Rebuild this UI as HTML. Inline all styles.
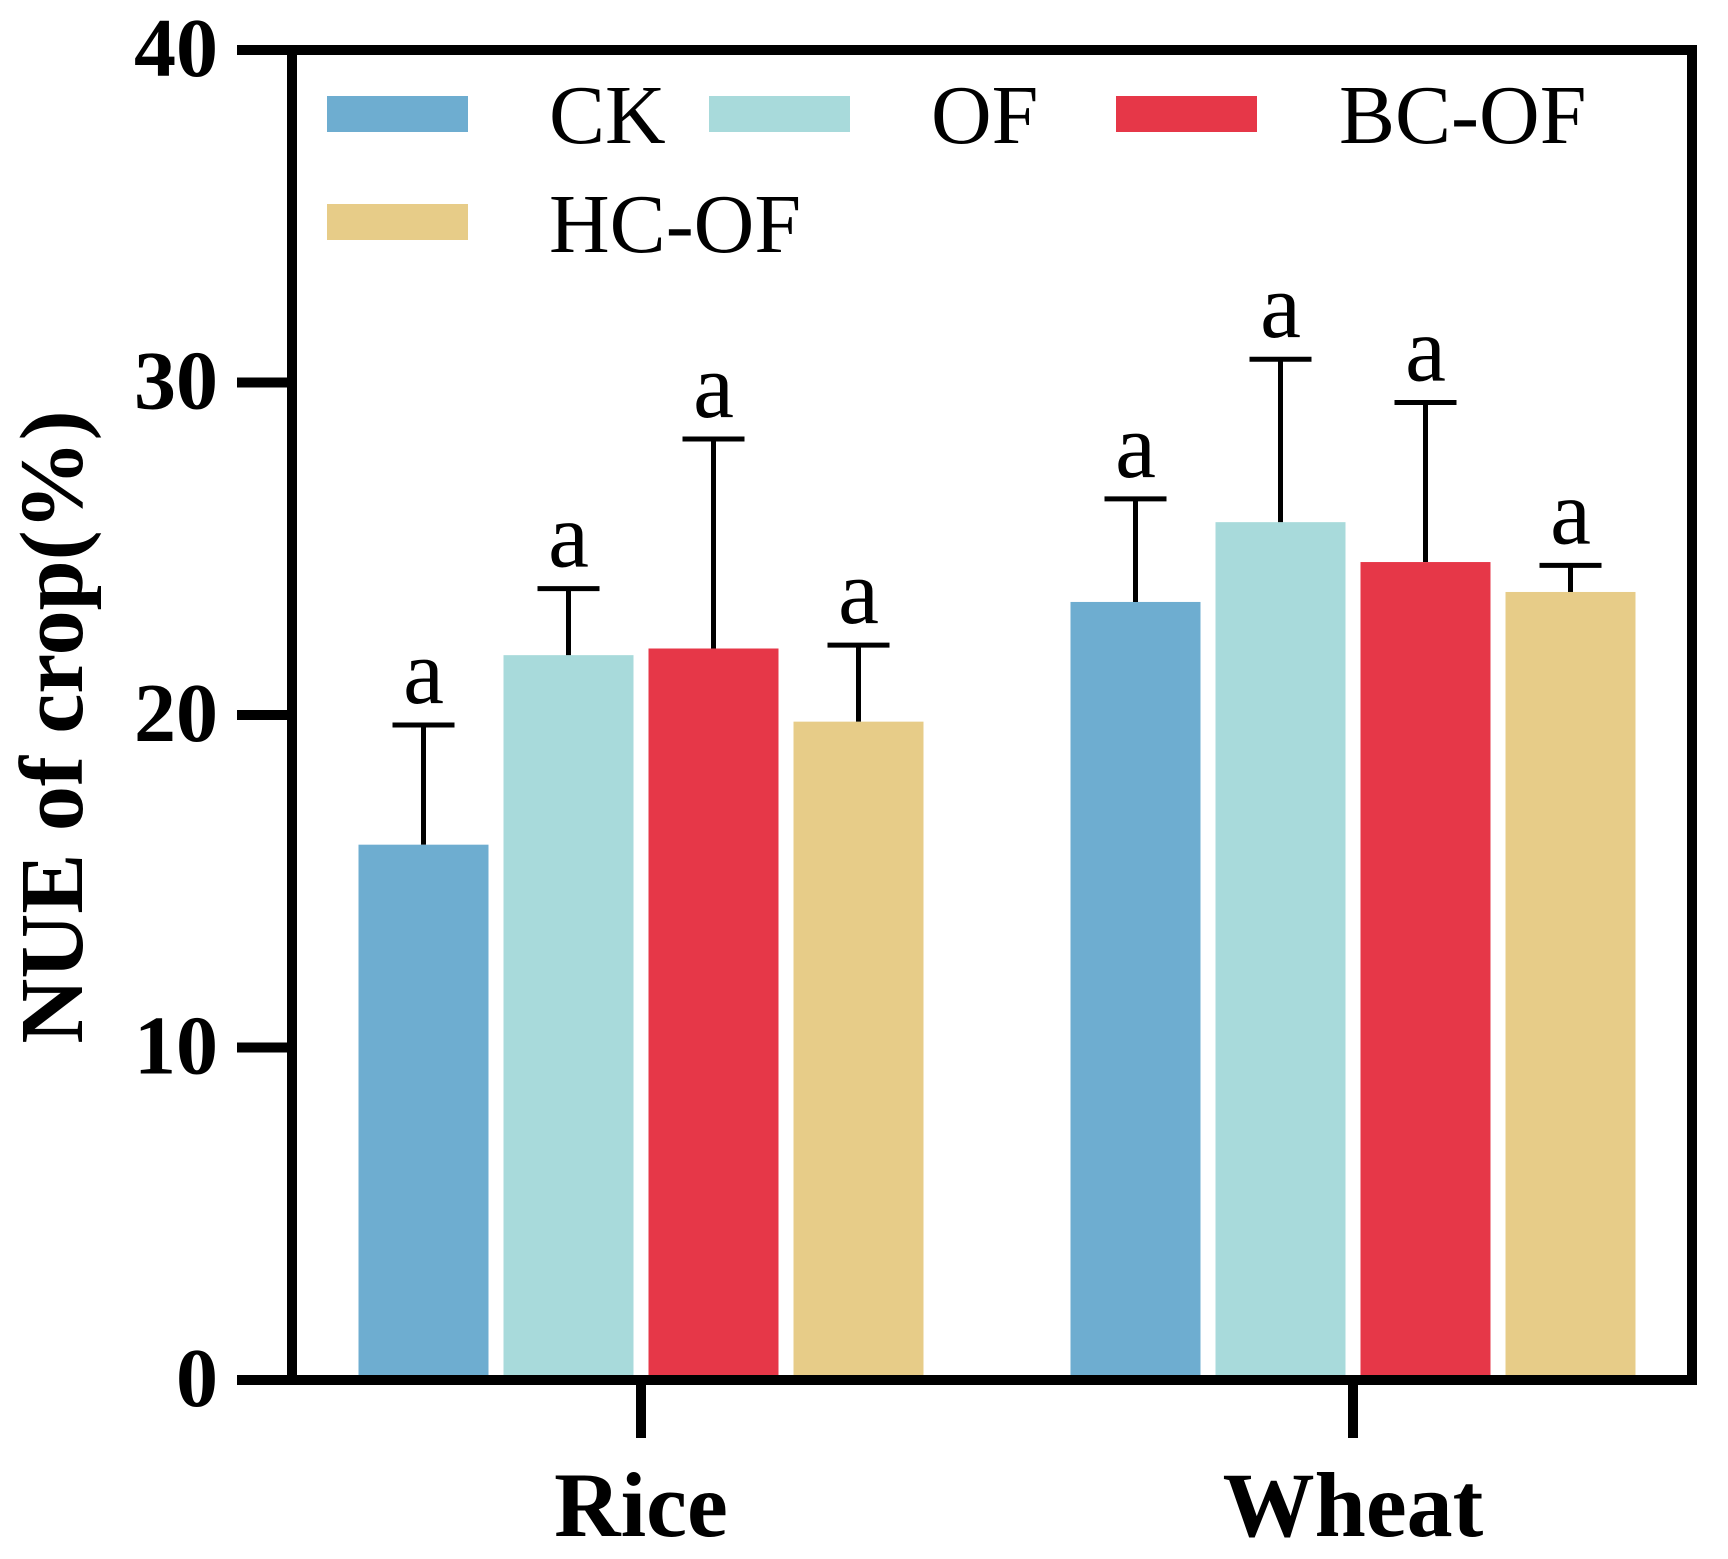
<!DOCTYPE html>
<html><head><meta charset="utf-8"><style>
html,body{margin:0;padding:0;background:#fff}
svg{display:block}
text{font-family:"Liberation Serif",serif}
</style></head><body>
<svg id="chart" width="1728" height="1559" viewBox="0 0 1728 1559" xmlns="http://www.w3.org/2000/svg">
<g id="plot"></g>
</svg>
<script>
const groups = ["Rice","Wheat"];
const seriesNames = ["CK","OF","BC-OF","HC-OF"];
const colors = ["#6eadd0","#a8dadb","#e63748","#e7cc88"];
const ckVals = [16.1, 23.4];
const ofVals = [21.8, 25.8];
const bcVals = [22.0, 24.6];
const hcVals = [19.8, 23.7];
const ckErr = [3.6, 3.1];
const ofErr = [2.0, 4.9];
const bcErr = [6.3, 4.8];
const hcErr = [2.3, 0.8];
const sigLetters = [["a","a"],["a","a"],["a","a"],["a","a"]];
const yTicks = [0,10,20,30,40];

const values = [ckVals, ofVals, bcVals, hcVals];
const errs = [ckErr, ofErr, bcErr, hcErr];
const NS = "http://www.w3.org/2000/svg";
const g = document.getElementById("plot");
const L=292, R=1692, T=50, B=1380;
const yMax=40;
const y = v => B - (v/yMax)*(B-T);
const groupCenters = [641, 1353];
const barW=130, step=145;
const x = (gi, si) => groupCenters[gi] + (si-1.5)*step - barW/2;
function el(tag, attrs, txt){const e=document.createElementNS(NS,tag);for(const k in attrs)e.setAttribute(k,attrs[k]);if(txt!==undefined)e.textContent=txt;g.appendChild(e);return e;}

values.forEach((arr, si)=>{
  arr.forEach((v, gi)=>{
    const bx=x(gi,si);
    const r=el("rect",{x:bx,y:y(v),width:barW,height:B-y(v),fill:colors[si]});
    
    
    const cx=bx+barW/2, top=y(v+errs[si][gi]);
    const e1=el("line",{x1:cx,x2:cx,y1:y(v),y2:top,stroke:"#000","stroke-width":5});
    
    
    const e2=el("line",{x1:cx-31,x2:cx+31,y1:top,y2:top,stroke:"#000","stroke-width":5});
    
    
    const t=el("text",{x:cx,y:top-22,"font-size":92,"text-anchor":"middle",fill:"#000"},sigLetters[si][gi]);
    
    
  });
});

const fr=el("rect",{x:L,y:T,width:R-L,height:B-T,fill:"none",stroke:"#000","stroke-width":10});



yTicks.forEach(v=>{
  const tk=el("line",{x1:237,x2:L,y1:y(v),y2:y(v),stroke:"#000","stroke-width":10});
  
  
  const tl=el("text",{x:218,y:y(v)+26,"font-size":84,"font-weight":"bold","text-anchor":"end",fill:"#000"},String(v));
  
  
});

groups.forEach((name,gi)=>{
  const cx=groupCenters[gi];
  const tk=el("line",{x1:cx,x2:cx,y1:B,y2:1438,stroke:"#000","stroke-width":10});
  
  
  const tl=el("text",{x:cx,y:1536,"font-size":92,"font-weight":"bold","text-anchor":"middle",fill:"#000"},name);
  
  
});

const yt=el("text",{x:0,y:0,"font-size":90,"font-weight":"bold","text-anchor":"middle",fill:"#000",transform:"translate(82,727) rotate(-90)"},"NUE of crop(%)");



const legPos=[[327,96],[709,96],[1116,96],[327,204]];
const labPos=[[549,143],[931,143],[1339,143],[549,252]];
seriesNames.forEach((n,si)=>{
  const sw=el("rect",{x:legPos[si][0],y:legPos[si][1],width:141,height:36,fill:colors[si]});
  
  
  const lt=el("text",{x:labPos[si][0],y:labPos[si][1],"font-size":84,fill:"#000"},n);
  
  
});
</script>
</body></html>
